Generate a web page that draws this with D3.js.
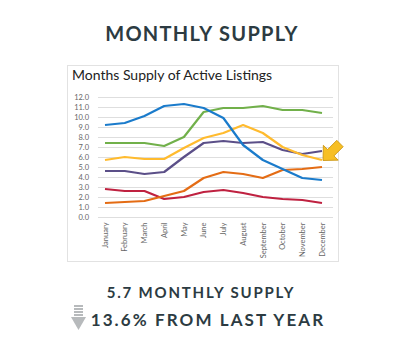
<!DOCTYPE html>
<html>
<head>
<meta charset="utf-8">
<script src="https://cdn.jsdelivr.net/npm/d3@7"></script>
<style>
  body { margin: 0; background: #fff; }
  svg { display: block; }
</style>
</head>
<body>
<script>
// month names along the x axis
const months = ["January", "February", "March", "April", "May", "June",
  "July", "August", "September", "October", "November", "December"];

// y axis ticks
const yTicks = [0, 1, 2, 3, 4, 5, 6, 7, 8, 9, 10, 11, 12];

// one array per line (months of supply)
const blueSeries   = [9.2, 9.4, 10.1, 11.1, 11.3, 10.9, 9.9, 7.2, 5.7, 4.8, 3.9, 3.7];
const greenSeries  = [7.4, 7.4, 7.4, 7.1, 8.0, 10.5, 10.9, 10.9, 11.1, 10.7, 10.7, 10.4];
const yellowSeries = [5.7, 6.0, 5.8, 5.8, 6.9, 7.9, 8.4, 9.2, 8.4, 7.0, 6.2, 5.7];
const purpleSeries = [4.6, 4.6, 4.3, 4.5, 6.0, 7.4, 7.6, 7.4, 7.5, 6.7, 6.3, 6.6];
const orangeSeries = [1.4, 1.5, 1.6, 2.1, 2.6, 3.9, 4.5, 4.3, 3.9, 4.7, 4.8, 5.0];
const redSeries    = [2.8, 2.6, 2.6, 1.8, 2.0, 2.5, 2.7, 2.4, 2.0, 1.8, 1.7, 1.4];

const series = [
  { values: redSeries, color: "#bf2140" },
  { values: orangeSeries, color: "#e46c14" },
  { values: purpleSeries, color: "#5b4f88" },
  { values: yellowSeries, color: "#ffbb2e" },
  { values: greenSeries, color: "#71b04a" },
  { values: blueSeries, color: "#1a7bcb" }
];

const width = 400, height = 362;
const textColor = "#2c3b42";

const svg = d3.select("body").append("svg")
  .attr("width", width)
  .attr("height", height);

// page heading
svg.append("text")
  .attr("x", 202).attr("y", 41)
  .attr("text-anchor", "middle")
  .attr("font-family", "Lato, sans-serif")
  .attr("font-weight", 700)
  .attr("font-size", 20)
  .attr("letter-spacing", 1.3)
  .attr("fill", textColor)
  .text("MONTHLY SUPPLY");

// chart panel
svg.append("rect")
  .attr("x", 67.5).attr("y", 65.5)
  .attr("width", 271).attr("height", 196)
  .attr("fill", "#fff")
  .attr("stroke", "#e2e2e2");

svg.append("text")
  .attr("x", 72).attr("y", 80)
  .attr("font-family", "Lato, sans-serif")
  .attr("font-size", 14)
  .attr("fill", "#222")
  .text("Months Supply of Active Listings");

const x = d3.scalePoint()
  .domain(months)
  .range([105, 322]);

const y = d3.scaleLinear()
  .domain([0, 12])
  .range([217, 97]);

// gridlines
svg.append("g")
  .selectAll("line")
  .data(yTicks)
  .enter()
  .append("line")
  .attr("x1", 98).attr("x2", 333)
  .attr("y1", d => Math.round(y(d)) + 0.5)
  .attr("y2", d => Math.round(y(d)) + 0.5)
  .attr("stroke", "#dedede")
  .attr("stroke-width", 1);

// y axis labels
const yAxis = svg.append("g")
  .attr("transform", "translate(92,0)")
  .call(d3.axisLeft(y).tickValues(yTicks).tickFormat(d3.format(".1f")).tickSize(0));
yAxis.select(".domain").remove();
yAxis.selectAll("text")
  .attr("font-family", "Lato, sans-serif")
  .attr("font-size", 7.5)
  .attr("fill", "#666");

// x axis labels, rotated
const xAxis = svg.append("g")
  .attr("transform", "translate(0,221)")
  .call(d3.axisBottom(x).tickSize(0));
xAxis.select(".domain").remove();
xAxis.selectAll("text")
  .attr("font-family", "Lato, sans-serif")
  .attr("font-size", 7.5)
  .attr("fill", "#666")
  .attr("text-anchor", "end")
  .attr("transform", "rotate(-90)")
  .attr("dx", "-0.2em")
  .attr("dy", "0.3em")
  .attr("y", 0);

// lines
const line = d3.line()
  .x((d, i) => x(months[i]))
  .y(d => y(d));

svg.append("g")
  .selectAll("path")
  .data(series)
  .enter()
  .append("path")
  .attr("d", d => line(d.values))
  .attr("fill", "none")
  .attr("stroke", d => d.color)
  .attr("stroke-width", 2.2)
  .attr("stroke-linejoin", "round");

// gold pointer arrow next to the December value
const tip = [x("December") + 1, y(yellowSeries[11]) + 0.5];
svg.append("path")
  .attr("transform", `translate(${tip[0]},${tip[1]}) rotate(-45)`)
  .attr("d", "M0,0 L11,-10.5 L11,-4.5 L24,-4.5 L24,4.5 L11,4.5 L11,10.5 Z")
  .attr("fill", "#f7bf24")
  .attr("stroke", "#c99410")
  .attr("stroke-width", 0.8)
  .attr("stroke-linejoin", "round");

// summary text
svg.append("text")
  .attr("x", 201).attr("y", 298)
  .attr("text-anchor", "middle")
  .attr("font-family", "Lato, sans-serif")
  .attr("font-weight", 700)
  .attr("font-size", 15)
  .attr("letter-spacing", 1.8)
  .attr("fill", textColor)
  .text("5.7 MONTHLY SUPPLY");

svg.append("text")
  .attr("x", 208).attr("y", 325.5)
  .attr("text-anchor", "middle")
  .attr("font-family", "Lato, sans-serif")
  .attr("font-weight", 700)
  .attr("font-size", 17)
  .attr("letter-spacing", 2.1)
  .attr("fill", textColor)
  .text("13.6% FROM LAST YEAR");

// grey down arrow with striped shaft
const down = svg.append("g").attr("fill", "#b7babc");
[0, 1, 2, 3].forEach(i => {
  down.append("rect")
    .attr("x", 74).attr("y", 305 + i * 3)
    .attr("width", 9).attr("height", 2);
});
down.append("path")
  .attr("d", "M71,317 L86,317 L78.5,330 Z");
</script>
</body>
</html>
